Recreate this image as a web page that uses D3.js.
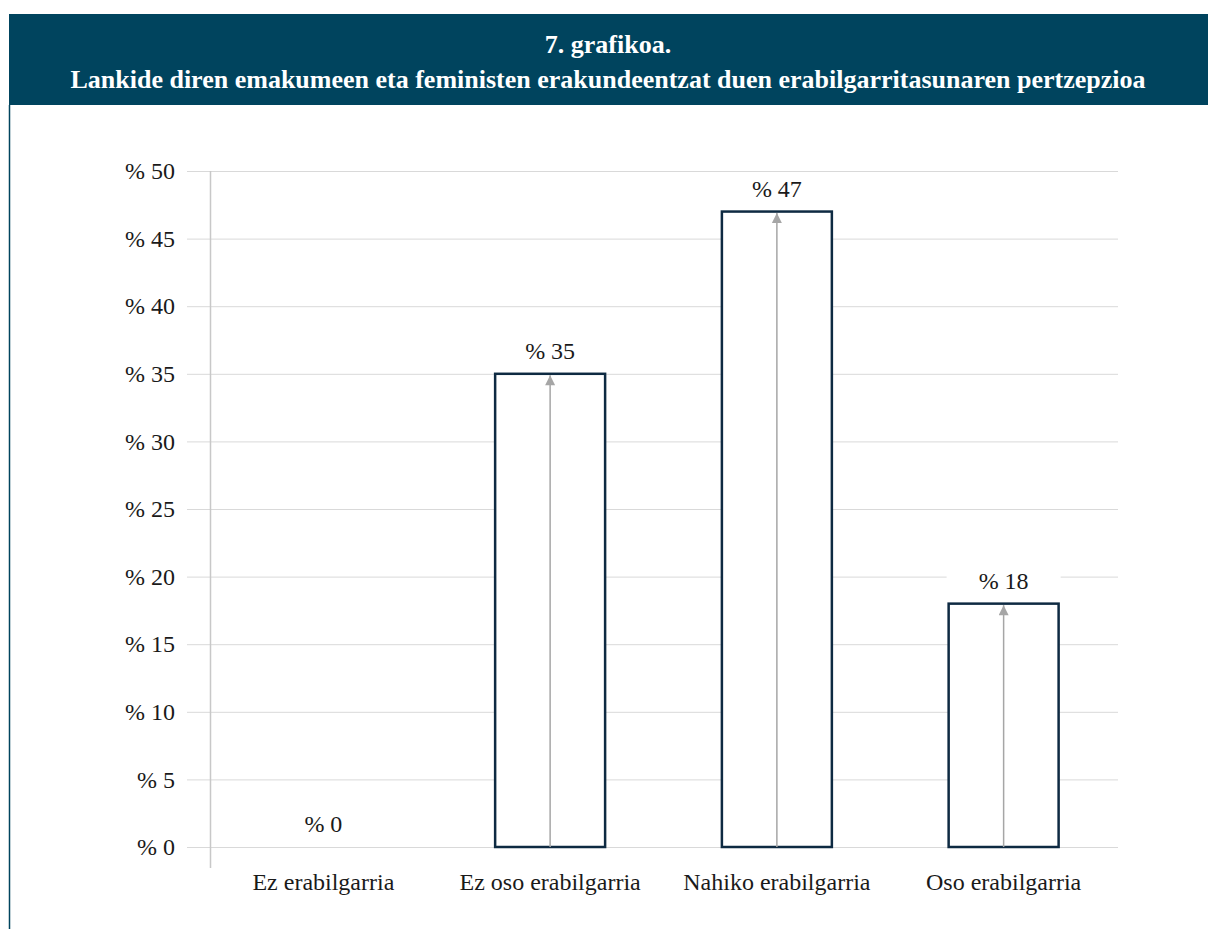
<!DOCTYPE html>
<html><head><meta charset="utf-8">
<script src="https://cdn.jsdelivr.net/npm/d3@7"></script>
<style>body{margin:0;background:#fff}svg{display:block}text{font-family:"Liberation Serif","DejaVu Serif",serif}</style>
</head><body>
<svg id="c" width="1208" height="929"></svg>
<script>
const categories = ["Ez erabilgarria","Ez oso erabilgarria","Nahiko erabilgarria","Oso erabilgarria"];
const values = [0, 35, 47, 18];
const yTicks = [0,5,10,15,20,25,30,35,40,45,50];
const titleLines = ["7. grafikoa.","Lankide diren emakumeen eta feministen erakundeentzat duen erabilgarritasunaren pertzepzioa"];

const svg = d3.select("#c");
const navy = "#00445e";

// header band
svg.append("rect").attr("x",9).attr("y",14).attr("width",1199).attr("height",91).attr("fill",navy);
svg.append("line").attr("x1",9.5).attr("x2",9.5).attr("y1",105).attr("y2",929).attr("stroke",navy).attr("stroke-width",1.5);
svg.selectAll("text.title").data(titleLines).enter().append("text")
  .attr("x",608).attr("y",(d,i)=>i===0?53:88).attr("text-anchor","middle")
  .attr("fill","#fff").attr("font-weight","bold").attr("font-size",26).text(d=>d);

const x = d3.scaleBand().domain(categories).range([210,1117]).paddingInner(0.515).paddingOuter(0.2575);
const y = d3.scaleLinear().domain([0,50]).range([847,171]);

// gridlines
svg.append("g").selectAll("line").data(yTicks).enter().append("line")
  .attr("x1",187).attr("x2",1118).attr("y1",d=>y(d)+0.5).attr("y2",d=>y(d)+0.5)
  .attr("stroke","#d9d9d9").attr("stroke-width",1);

// y axis line
svg.append("line").attr("x1",210.5).attr("x2",210.5).attr("y1",171).attr("y2",868).attr("stroke","#c8c8c8").attr("stroke-width",1.5);

// y tick labels
const yAxis = d3.axisLeft(y).tickValues(yTicks).tickSize(0).tickPadding(0).tickFormat(d=>"% "+d);
const ya = svg.append("g").attr("transform","translate(175,0)").call(yAxis);
ya.select(".domain").remove();
ya.selectAll("text").attr("font-family",null).attr("font-size",24).attr("fill","#1a1a1a").attr("dy","0.32em");

// x labels
const xAxis = d3.axisBottom(x).tickSize(0).tickPadding(0);
const xa = svg.append("g").attr("transform","translate(0,873)").call(xAxis);
xa.attr("font-family",null);
ya.attr("font-family",null);
xa.select(".domain").remove();
xa.selectAll("text").attr("font-size",24).attr("fill","#1a1a1a").attr("dy","0.71em");

// arrow marker
const defs = svg.append("defs");
defs.append("marker").attr("id","ah").attr("viewBox","0 0 10 10").attr("refX",10).attr("refY",5)
  .attr("markerWidth",14).attr("markerHeight",10).attr("markerUnits","userSpaceOnUse").attr("orient","auto")
  .append("path").attr("d","M0,0 L10,5 L0,10 z").attr("fill","#a6a6a6");

const data = categories.map((c,i)=>({c, v: values[i]}));
const bars = data.filter(d=>d.v>0);

svg.append("g").selectAll("rect").data(bars).enter().append("rect")
  .attr("x",d=>x(d.c)).attr("y",d=>y(d.v)).attr("width",x.bandwidth()).attr("height",d=>y(0)-y(d.v))
  .attr("fill","#fff").attr("stroke","#0e2a42").attr("stroke-width",2.5);

svg.append("g").selectAll("line").data(bars).enter().append("line")
  .attr("x1",d=>x(d.c)+x.bandwidth()/2).attr("x2",d=>x(d.c)+x.bandwidth()/2)
  .attr("y1",y(0)).attr("y2",d=>y(d.v)+1.5)
  .attr("stroke","#a6a6a6").attr("stroke-width",1.5).attr("marker-end","url(#ah)");

// data labels with white background
const lg = svg.append("g").selectAll("g").data(data).enter().append("g")
  .attr("transform",d=>`translate(${x(d.c)+x.bandwidth()/2},${y(d.v)-23})`);
lg.append("rect").attr("x",-57).attr("y",-14).attr("width",114).attr("height",28).attr("fill","#fff");
lg.append("text").attr("text-anchor","middle").attr("dy","0.35em").attr("font-size",24)
  .attr("fill","#1a1a1a").text(d=>"% "+d.v);
</script>
</body></html>
